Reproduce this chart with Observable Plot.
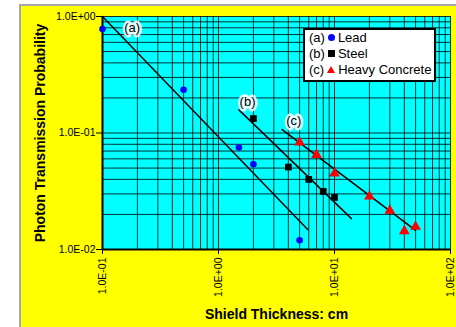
<!DOCTYPE html>
<html><head><meta charset="utf-8">
<script src="https://cdn.jsdelivr.net/npm/d3@7"></script>
<script src="https://cdn.jsdelivr.net/npm/@observablehq/plot@0.6"></script>
<style>
html,body{margin:0;padding:0;background:#fff;}
#wrap{position:absolute;left:19px;top:4px;border-left:2px solid #a8a8a8;border-top:2px solid #a8a8a8;background:#ffff00;width:435px;height:321px;overflow:hidden;}
#wrap svg{display:block;}
#legend{position:absolute;left:303px;top:28px;width:133px;height:54px;box-sizing:border-box;border:2px solid #000;background:#fff;font:13px "Liberation Sans",Arial,sans-serif;line-height:16px;padding:0 0 0 4px;color:#000;}
#legend div{white-space:nowrap;height:16px;}
.sw{display:inline-block;vertical-align:middle;margin:0 3px 2px 3px;}
.c{width:7px;height:7px;border-radius:50%;background:#0000ff;}
.s{width:7px;height:7px;background:#000;}
.t{width:0;height:0;border-left:4px solid transparent;border-right:4px solid transparent;border-bottom:7px solid #ff0000;}
[aria-label="y-axis label"] text,[aria-label="x-axis label"] text{font-size:14px;font-weight:bold;}
</style></head>
<body>
<div id="wrap"></div>
<div id="legend"></div>
<script>
// Data
const leadX = [0.1, 0.5, 1.5, 2, 5];
const leadY = [0.78, 0.235, 0.075, 0.054, 0.012];
const steelX = [2, 4, 6, 8, 10];
const steelY = [0.133, 0.051, 0.040, 0.0315, 0.028];
const concreteX = [5, 7, 10, 20, 30, 40, 50];
const concreteY = [0.083, 0.065, 0.045, 0.0285, 0.0216, 0.0144, 0.0157];
const fitAX = [0.1, 5.9], fitAY = [1.0, 0.0148];
const fitBX = [1.5, 14], fitBY = [0.158, 0.0184];
const fitCX = [3.54, 50], fitCY = [0.107, 0.0146];
const labelText = ["(a)", "(b)", "(c)"];
const labelX = [0.18, 1.78, 4.46];
const labelY = [0.80, 0.185, 0.127];
const xMajor = [0.1, 1, 10, 100];
const xTickLabels = ["1.0E-01", "1.0E+00", "1.0E+01", "1.0E+02"];
const yMajor = [0.01, 0.1, 1];
const yTickLabels = ["1.0E-02", "1.0E-01", "1.0E+00"];
const legendKeys = ["(a)", "(b)", "(c)"];
const legendNames = ["Lead", "Steel", "Heavy Concrete"];
const legendSwatch = ["c", "s", "t"];

const pts = (xs, ys) => xs.map((x, i) => ({x, y: ys[i]}));
const xGrid = d3.scaleLog().domain([0.1, 100]).ticks();
const yGrid = d3.scaleLog().domain([0.01, 1]).ticks();

const chart = Plot.plot({
  width: 435, height: 321,
  marginLeft: 81, marginTop: 10, marginRight: 6, marginBottom: 78,
  style: {fontFamily: '"Liberation Sans", Arial, sans-serif', fontSize: "10.5px", color: "#000", background: "transparent"},
  x: {type: "log", domain: [0.1, 100]},
  y: {type: "log", domain: [0.01, 1]},
  marks: [
    Plot.frame({fill: "#00ffff", stroke: null}),
    Plot.gridX(xGrid, {stroke: "#000", strokeOpacity: 0.8, strokeWidth: 1}),
    Plot.gridY(yGrid, {stroke: "#000", strokeOpacity: 0.8, strokeWidth: 1}),
    Plot.ruleX([0.1], {stroke: "#000", strokeWidth: 2}),
    Plot.ruleY([0.01], {stroke: "#000", strokeWidth: 2}),
    Plot.axisY(yMajor, {tickFormat: d => yTickLabels[yMajor.indexOf(d)], tickSize: 6, tickPadding: 1,
      label: "Photon Transmission Probability", labelAnchor: "center", labelOffset: 67, labelArrow: "none"}),
    Plot.axisX(xMajor, {tickFormat: d => xTickLabels[xMajor.indexOf(d)], tickRotate: -90, tickSize: 5, tickPadding: 3,
      label: "Shield Thickness: cm", labelAnchor: "center", labelOffset: 69, labelArrow: "none"}),
    Plot.line(pts(fitAX, fitAY), {x: "x", y: "y", stroke: "#000", strokeWidth: 1.5}),
    Plot.line(pts(fitBX, fitBY), {x: "x", y: "y", stroke: "#000", strokeWidth: 1.5}),
    Plot.line(pts(fitCX, fitCY), {x: "x", y: "y", stroke: "#000", strokeWidth: 1.5}),
    Plot.dot(pts(leadX, leadY), {x: "x", y: "y", r: 3.3, fill: "#0000ff", stroke: null}),
    Plot.dot(pts(steelX, steelY), {x: "x", y: "y", symbol: "square", r: 3.8, fill: "#000", stroke: null}),
    Plot.dot(pts(concreteX, concreteY), {x: "x", y: "y", symbol: "triangle", r: 4, fill: "#ff0000", stroke: null}),
    Plot.text(labelText, {x: (d, i) => labelX[i], y: (d, i) => labelY[i], text: d => d, fontSize: 13,
      fill: "#000", stroke: "#fff", strokeWidth: 5, strokeOpacity: 0.85})
  ]
});
document.getElementById("wrap").appendChild(chart);

const leg = document.getElementById("legend");
legendKeys.forEach((k, i) => {
  const row = document.createElement("div");
  row.appendChild(document.createTextNode(k));
  const sw = document.createElement("span");
  sw.className = "sw " + legendSwatch[i];
  row.appendChild(sw);
  row.appendChild(document.createTextNode(legendNames[i]));
  leg.appendChild(row);
});
</script>
</body></html>
